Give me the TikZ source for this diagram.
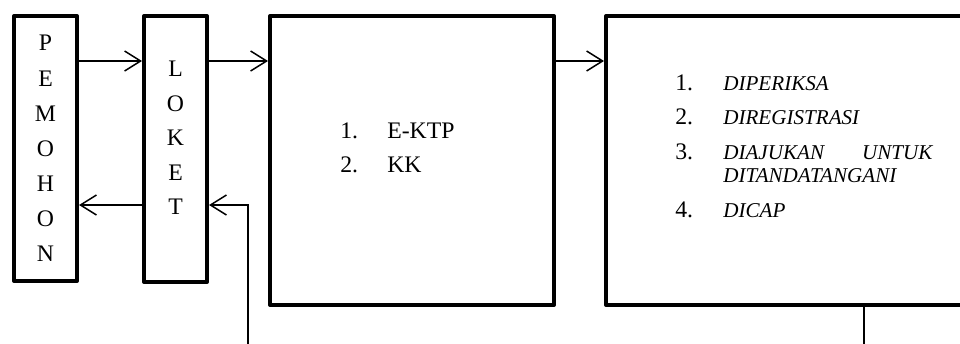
\documentclass[tikz,border=0pt]{standalone}
\usepackage{fontspec}
\setmainfont{Liberation Serif}
\usepackage{array}
\usetikzlibrary{arrows.meta}

\tikzset{
    kotak/.style={draw, line width=2.3pt, line join=round, inner sep=0pt, anchor=north west},
    huruf/.style={align=center, font=\fontsize{13.5}{20}\selectfont},
    daftar/.style={anchor=base west, inner sep=0pt, font=\fontsize{13.5}{13.1}\selectfont},
    panah/.style={line width=0.85pt, -{Straight Barb[length=3.2mm, width=4mm, line width=0.85pt]}},
    garis/.style={line width=0.85pt}
}
\newcommand{\miring}{\itshape\fontsize{12}{13.1}\selectfont}

\begin{document}
\begin{tikzpicture}
    \useasboundingbox (0,0) rectangle (19.2,6.86);
    \clip (0,0) rectangle (19.2,6.86);

    % kotak
    \node[kotak, minimum width=1.26cm, minimum height=5.3cm] (pemohon) at (0.24,6.58) {};
    \node[kotak, minimum width=1.26cm, minimum height=5.32cm] (loket) at (2.84,6.58) {};
    \node[kotak, minimum width=5.68cm, minimum height=5.78cm] (syarat) at (5.36,6.58) {};
    \node[kotak, minimum width=7.8cm, minimum height=5.78cm] (proses) at (12.08,6.58) {};

    % tulisan
    \node[huruf] (pemohon text) at (pemohon.center) {P\\E\\M\\O\\H\\O\\N};
    \node[huruf, font=\fontsize{13.5}{19.6}\selectfont] (loket text) at ([yshift=0.22cm]loket.center) {L\\O\\K\\E\\T};

    \node[daftar] (syarat text) at ([xshift=1.44cm, yshift=-2.48cm]syarat.north west)
        {\begin{tabular}[t]{@{}p{0.94cm}@{}l@{}}
            1. & E-KTP \\[6.8pt]
            2. & KK
        \end{tabular}};

    \node[daftar] (proses text) at ([xshift=1.42cm, yshift=-1.52cm]proses.north west)
        {\begin{tabular}[t]{@{}p{0.96cm}@{}p{4.18cm}@{}}
            1. & \miring DIPERIKSA \\[6.8pt]
            2. & \miring DIREGISTRASI \\[6.8pt]
            3. & \miring DIAJUKAN\hfill UNTUK\newline DITANDATANGANI \\[19.9pt]
            4. & \miring DICAP
        \end{tabular}};

    % panah
    \coordinate (atas) at (0,5.64);
    \coordinate (bawah) at (0,2.76);
    \coordinate (masuk) at (4.96,-0.1);
    \coordinate (keluar) at (17.28,-0.1);

    \draw[panah] (pemohon.east |- atas) -- (loket.west |- atas);
    \draw[panah] (loket.east |- atas) -- (syarat.west |- atas);
    \draw[panah] (syarat.east |- atas) -- (proses.west |- atas);
    \draw[panah] (loket.west |- bawah) -- (pemohon.east |- bawah);
    \draw[panah] (masuk) |- (loket.east |- bawah);
    \draw[garis] (proses.south -| keluar) -- (keluar);
\end{tikzpicture}
\end{document}
